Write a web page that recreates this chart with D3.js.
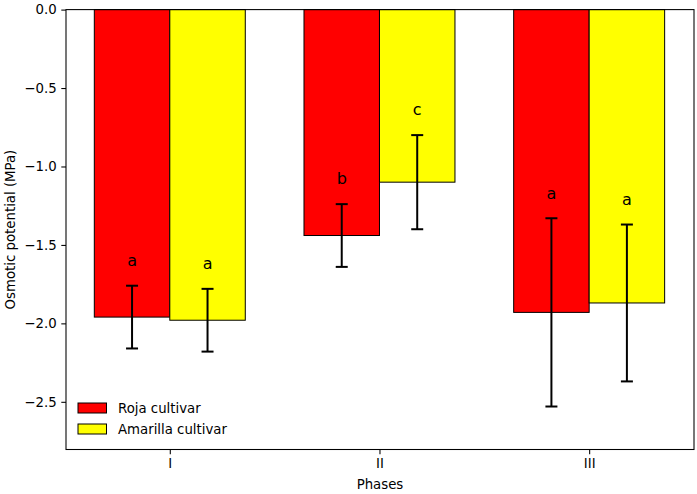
<!DOCTYPE html>
<html>
<head>
<meta charset="utf-8">
<script src="https://cdn.jsdelivr.net/npm/d3@7"></script>
<style>
  body { margin: 0; background: #fff; }
  svg { font-family: "DejaVu Sans", sans-serif; }
</style>
</head>
<body>
<svg id="chart" width="697" height="494"></svg>
<script>
const phases = ['I', 'II', 'III']
const series = ['Roja cultivar', 'Amarilla cultivar']
const colors = ['#ff0000', '#ffff00']
const rojaMean = [-1.96, -1.44, -1.93]
const rojaErr = [0.2, 0.2, 0.6]
const amarillaMean = [-1.98, -1.10, -1.87]
const amarillaErr = [0.2, 0.3, 0.5]
const rojaLetters = ['a', 'b', 'a']
const amarillaLetters = ['a', 'c', 'a']
const yTicks = [0, -0.5, -1.0, -1.5, -2.0, -2.5]

const means = [rojaMean, amarillaMean]
const errs = [rojaErr, amarillaErr]
const letters = [rojaLetters, amarillaLetters]

const svg = d3.select('#chart')
const mLeft = 66, mRight = 694, mTop = 9.6, mBottom = 449.5
const barW = 0.36

const x = d3.scaleLinear().domain([-0.495, 2.5]).range([mLeft, mRight])
const y = d3.scaleLinear().domain([0, -2.804]).range([mTop, mBottom])

const bars = []
series.forEach((s, si) => {
  phases.forEach((p, pi) => {
    bars.push({
      si, pi,
      x0: pi + (si === 0 ? -barW : 0),
      v: means[si][pi],
      e: errs[si][pi],
      l: letters[si][pi]
    })
  })
})

// bars
svg.selectAll('rect.bar')
  .data(bars)
  .join('rect')
  .attr('class', 'bar')
  .attr('x', d => x(d.x0))
  .attr('width', d => x(d.x0 + barW) - x(d.x0))
  .attr('y', y(0))
  .attr('height', d => y(d.v) - y(0))
  .attr('fill', d => colors[d.si])
  .attr('stroke', '#000')
  .attr('stroke-width', 1)

// error bars
const eb = svg.selectAll('g.err').data(bars).join('g').attr('class', 'err')
  .attr('stroke', '#000').attr('stroke-width', 2)
eb.append('line')
  .attr('x1', d => x(d.x0 + barW / 2)).attr('x2', d => x(d.x0 + barW / 2))
  .attr('y1', d => y(d.v + d.e)).attr('y2', d => y(d.v - d.e))
eb.append('line')
  .attr('x1', d => x(d.x0 + barW / 2) - 6).attr('x2', d => x(d.x0 + barW / 2) + 6)
  .attr('y1', d => y(d.v + d.e)).attr('y2', d => y(d.v + d.e))
eb.append('line')
  .attr('x1', d => x(d.x0 + barW / 2) - 6).attr('x2', d => x(d.x0 + barW / 2) + 6)
  .attr('y1', d => y(d.v - d.e)).attr('y2', d => y(d.v - d.e))

// letters
svg.selectAll('text.letter')
  .data(bars)
  .join('text')
  .attr('class', 'letter')
  .attr('x', d => x(d.x0 + barW / 2))
  .attr('y', d => y(d.v + d.e + 0.1) - 4)
  .attr('text-anchor', 'middle')
  .attr('font-size', 16)
  .text(d => d.l)

// axes
const yAxis = d3.axisLeft(y).tickValues(yTicks).tickSize(4.7).tickPadding(4.7)
  .tickFormat(d => d3.format('.1f')(d).replace('-', '\u2212'))
const xAxis = d3.axisBottom(x).tickValues([0, 1, 2]).tickSize(4.7).tickPadding(4.7)
  .tickFormat((d, i) => phases[i])

const gy = svg.append('g').attr('transform', `translate(${mLeft},0)`).call(yAxis)
const gx = svg.append('g').attr('transform', `translate(0,${mBottom})`).call(xAxis)
;[gx, gy].forEach(g => {
  g.select('.domain').remove()
  g.selectAll('.tick line').attr('stroke', '#000').attr('stroke-width', 1.07)
  g.selectAll('.tick text').attr('font-size', 13.3).attr('fill', '#000')
    .attr('font-family', '"DejaVu Sans", sans-serif')
})

// spines
svg.append('rect')
  .attr('x', mLeft).attr('y', mTop)
  .attr('width', mRight - mLeft).attr('height', mBottom - mTop)
  .attr('fill', 'none').attr('stroke', '#000').attr('stroke-width', 1.07)

// axis labels
svg.append('text')
  .attr('x', (mLeft + mRight) / 2).attr('y', 489)
  .attr('text-anchor', 'middle').attr('font-size', 13.3)
  .text('Phases')
svg.append('text')
  .attr('transform', `translate(15,${(mTop + mBottom) / 2}) rotate(-90)`)
  .attr('text-anchor', 'middle').attr('font-size', 13.3)
  .text('Osmotic potential (MPa)')

// legend
const lg = svg.append('g').attr('transform', 'translate(78,403)')
series.forEach((s, i) => {
  lg.append('rect')
    .attr('x', 0).attr('y', i * 21)
    .attr('width', 28.5).attr('height', 10)
    .attr('fill', colors[i]).attr('stroke', '#000').attr('stroke-width', 1)
  lg.append('text')
    .attr('x', 40).attr('y', i * 21 + 10)
    .attr('font-size', 13.3)
    .text(s)
})
</script>
</body>
</html>
